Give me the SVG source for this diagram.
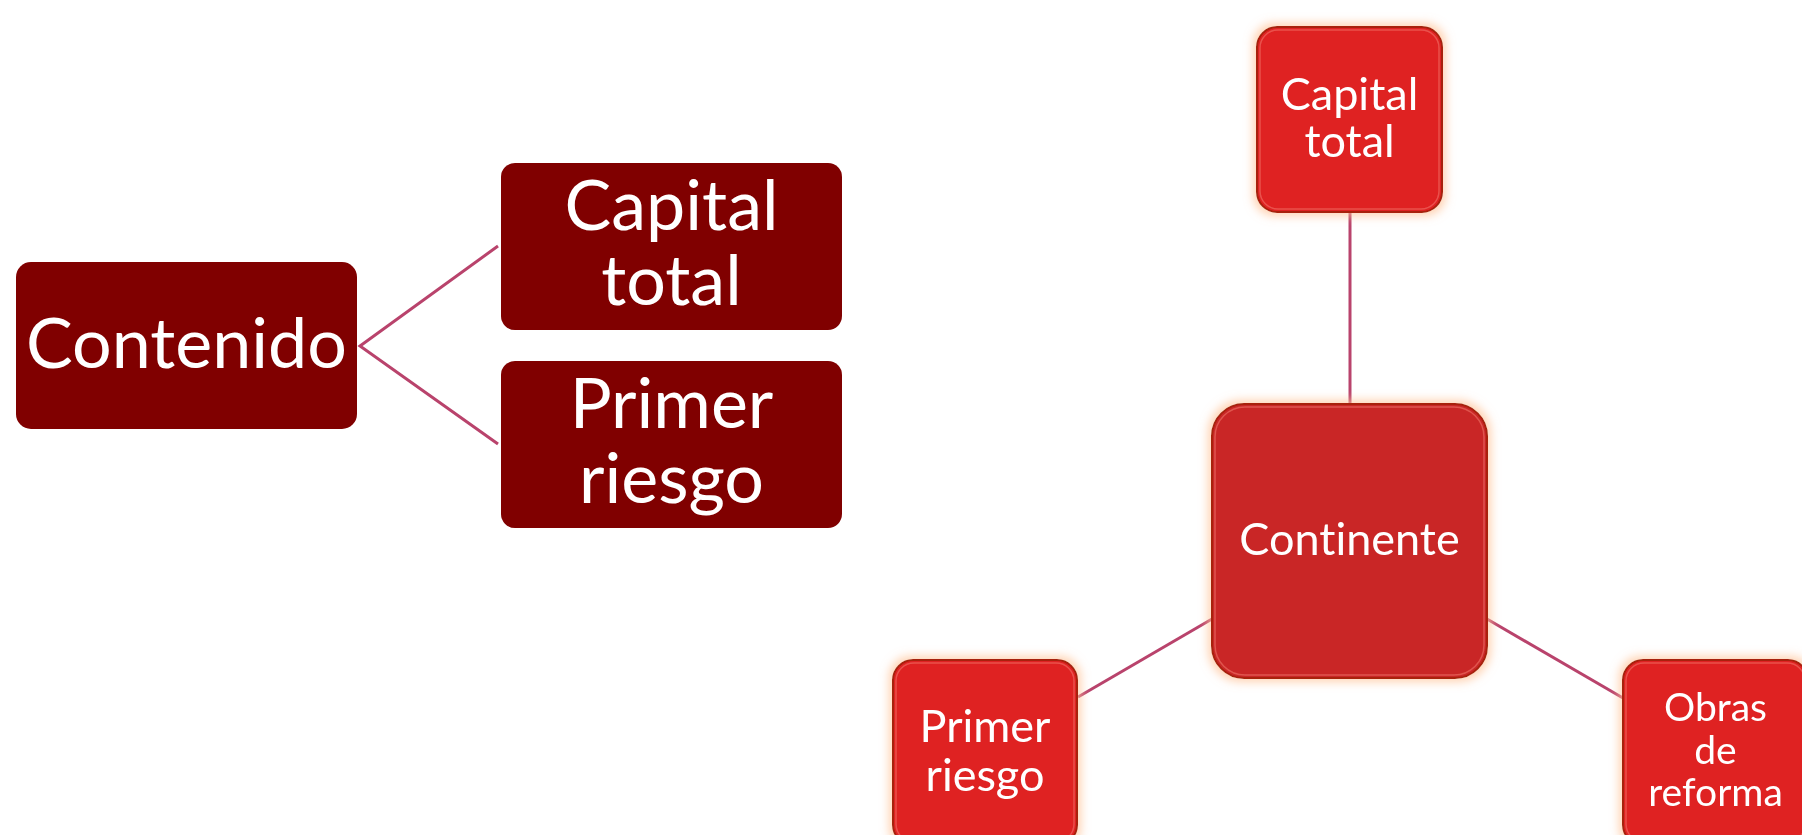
<svg xmlns="http://www.w3.org/2000/svg" width="1802" height="835" viewBox="0 0 1802 835">
  <style>
    .dark { fill: #800000; }
    .bright { fill: #DF2123; stroke: #A8200C; stroke-width: 2; }
    .center { fill: #C92727; stroke: #A8200C; stroke-width: 2; }
    .shine { fill: none; stroke: #F27A6E; stroke-width: 1.5; opacity: 0.55; }
    .conn { stroke: #B9436C; stroke-width: 3; fill: none; }
    text { font-family: Lato, "Open Sans", "DejaVu Sans", sans-serif; fill: #FFFFFF; text-anchor: middle; font-variant-ligatures: none; font-feature-settings: "liga" 0; }
    .big { font-size: 70px; }
    .mid { font-size: 45px; }
    .small { font-size: 39px; }
  </style>
  <defs>
    <filter id="glow" x="-20%" y="-20%" width="140%" height="140%">
      <feMorphology in="SourceAlpha" operator="dilate" radius="3" result="d"/>
      <feGaussianBlur in="d" stdDeviation="5" result="b"/>
      <feFlood flood-color="#FFC49A" flood-opacity="0.75"/>
      <feComposite in2="b" operator="in" result="g"/>
      <feMerge>
        <feMergeNode in="g"/>
        <feMergeNode in="SourceGraphic"/>
      </feMerge>
    </filter>
  </defs>
  <rect width="1802" height="835" fill="#FFFFFF"/>

  <g id="connectors">
    <polyline class="conn" points="498,246 360,346 498,444"/>
    <line class="conn" x1="1350" y1="212" x2="1350" y2="404"/>
    <line class="conn" x1="1078" y1="697" x2="1212" y2="619"/>
    <line class="conn" x1="1487" y1="619" x2="1623" y2="698"/>
  </g>

  <g id="node-contenido">
    <rect class="dark" x="16" y="262" width="341" height="167" rx="15"/>
    <text class="big" x="186.5" y="368">Contenido</text>
  </g>

  <g id="node-capital-total-left">
    <rect class="dark" x="501" y="163" width="341" height="167" rx="14"/>
    <text class="big" x="671.5" y="230">Capital</text>
    <text class="big" x="671.5" y="305">total</text>
  </g>

  <g id="node-primer-riesgo-left">
    <rect class="dark" x="501" y="361" width="341" height="167" rx="14"/>
    <text class="big" x="671.5" y="428">Primer</text>
    <text class="big" x="671.5" y="503">riesgo</text>
  </g>

  <g id="node-capital-total-right" filter="url(#glow)">
    <rect class="bright" x="1257" y="27" width="185" height="185" rx="20"/>
    <rect class="shine" x="1260" y="30" width="179" height="179" rx="18"/>
    <text class="mid" x="1349.5" y="110">Capital</text>
    <text class="mid" x="1349.5" y="157">total</text>
  </g>

  <g id="node-continente" filter="url(#glow)">
    <rect class="center" x="1212" y="404" width="275" height="274" rx="32"/>
    <rect class="shine" x="1215" y="407" width="269" height="268" rx="30"/>
    <text class="mid" x="1349.5" y="555">Continente</text>
  </g>

  <g id="node-primer-riesgo-right" filter="url(#glow)">
    <rect class="bright" x="893" y="660" width="184" height="185" rx="20"/>
    <rect class="shine" x="896" y="663" width="178" height="179" rx="18"/>
    <text class="mid" x="985" y="742">Primer</text>
    <text class="mid" x="985" y="791">riesgo</text>
  </g>

  <g id="node-obras-de-reforma" filter="url(#glow)">
    <rect class="bright" x="1623" y="660" width="185" height="185" rx="20"/>
    <rect class="shine" x="1626" y="663" width="179" height="179" rx="18"/>
    <text class="small" x="1715.5" y="721">Obras</text>
    <text class="small" x="1715.5" y="764">de</text>
    <text class="small" x="1715.5" y="806">reforma</text>
  </g>
</svg>
